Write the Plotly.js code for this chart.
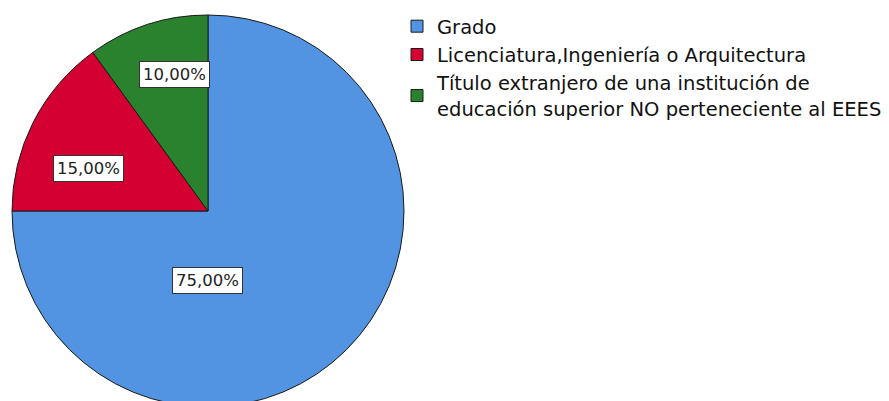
<!DOCTYPE html>
<html>
<head>
<meta charset="utf-8">
<script src="https://cdn.plot.ly/plotly-3.0.1.min.js"></script>
<style>
html, body { margin: 0; padding: 0; overflow: hidden; background: #fff; }
#chart { width: 889px; height: 412px; }
</style>
</head>
<body>
<div id="chart"></div>
<script>
// Data
const categories = [
  "Grado",
  "Licenciatura,Ingeniería o Arquitectura",
  "Título extranjero de una institución de<br>educación superior NO perteneciente al EEES"
];
const values = [75, 15, 10];
const colors = ["#5294E2", "#D40032", "#2A822E"];

// Style: pixel centers of percentage label boxes (layout, not data)
const W = 889, H = 412;
const labelPx = [[207, 280], [88, 168], [174, 74]];

const total = values.reduce((a, b) => a + b, 0);
const pctText = values.map(v => (v / total * 100).toFixed(2).replace('.', ',') + '%');

const trace = {
  type: 'pie',
  labels: categories,
  values: values,
  sort: false,
  direction: 'clockwise',
  rotation: 0,
  textinfo: 'none',
  hoverinfo: 'label+percent',
  marker: { colors: colors, line: { color: '#1a1a1a', width: 1 } },
  domain: { x: [12 / W, 404 / W], y: [(H - 407) / H, (H - 15) / H] }
};

const annotations = pctText.map((t, i) => ({
  text: t,
  xref: 'paper', yref: 'paper',
  x: labelPx[i][0] / W, y: 1 - labelPx[i][1] / H,
  xanchor: 'center', yanchor: 'middle',
  showarrow: false,
  bgcolor: '#ffffff',
  bordercolor: '#333333',
  borderwidth: 1,
  borderpad: 3,
  font: { family: 'DejaVu Sans', size: 16.5, color: '#222' }
}));

const layout = {
  width: W, height: H,
  margin: { l: 0, r: 0, t: 0, b: 0, autoexpand: false },
  paper_bgcolor: '#fff',
  separators: ',.',
  showlegend: true,
  legend: {
    x: 397 / W, xanchor: 'left',
    y: 1 - 7 / H, yanchor: 'top',
    font: { family: 'DejaVu Sans', size: 19.5, color: '#111' },
    tracegroupgap: 0,
    bgcolor: 'rgba(0,0,0,0)'
  },
  annotations: annotations
};

Plotly.newPlot('chart', [trace], layout, { displayModeBar: false, staticPlot: true });
</script>
</body>
</html>
